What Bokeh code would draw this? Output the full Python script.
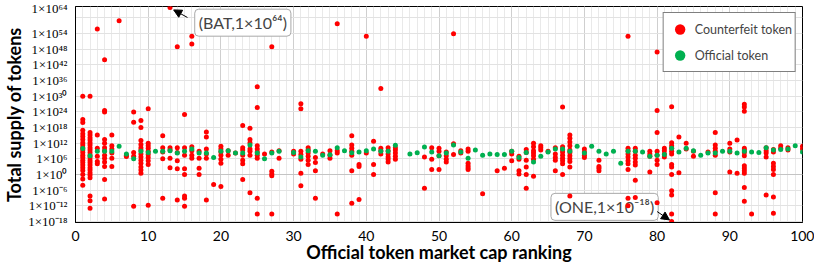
from bokeh.plotting import figure
from bokeh.models import (Range1d, FixedTicker, Legend, LegendItem, Label, Arrow,
                          NormalHead, ColumnDataSource)
from bokeh.embed import file_html
from bokeh.resources import INLINE

# ---------------- data ----------------
x_ticks = [0, 10, 20, 30, 40, 50, 60, 70, 80, 90, 100]
y_tick_exponents = [-18, -12, -6, 0, 6, 12, 18, 24, 30, 36, 42, 48, 54, 64]
y_tick_labels = ["1×10⁻¹⁸", "1×10⁻¹²", "1×10⁻⁶", "1×10⁰", "1×10⁶", "1×10¹²", "1×10¹⁸",
                 "1×10²⁴", "1×10³⁰", "1×10³⁶", "1×10⁴²", "1×10⁴⁸", "1×10⁵⁴", "1×10⁶⁴"]
y_grid_exponents = [-18, -12, -6, 0, 6, 12, 18, 24, 30, 36, 42, 48, 54, 60]

# official token: market-cap rank and log10(total supply)
official_rank = [1, 2, 3, 4, 5, 6, 7, 8, 9, 10, 11, 12, 13, 14, 15, 16, 17, 18, 19, 20,
                 21, 22, 23, 24, 25, 26, 27, 28, 30, 31, 32, 33, 34, 35, 36, 37, 38, 39, 40,
                 41, 42, 43, 44, 46, 47, 48, 49, 50, 51, 52, 53, 54, 55, 56, 57, 58, 59, 60,
                 61, 62, 63, 64, 65, 66, 67, 68, 69, 70, 71, 72, 73, 74, 75, 76, 77, 78, 79, 80,
                 81, 82, 83, 84, 85, 86, 87, 88, 89, 90, 91, 92, 93, 94, 95, 96, 97, 98, 99, 100]
official_exp = [10.0, 7.2, 8.9, 8.9, 8.9, 10.8, 7.9, 6.0, 8.9, 8.4, 8.9, 8.9, 9.1, 8.2, 8.9, 9.8, 8.2, 8.2, 6.5, 8.9,
                9.1, 8.2, 8.2, 11.3, 8.2, 6.0, 8.2, 8.9, 8.4, 6.7, 9.1, 8.9, 7.4, 7.6, 10.3, 9.1, 8.3, 8.6, 9.1,
                9.8, 8.9, 8.9, 11.2, 7.9, 8.3, 10.5, 8.6, 7.2, 8.2, 11.3, 8.6, 6.2, 9.4, 7.4, 7.9, 7.7, 7.7, 8.9,
                6.5, 8.4, 4.8, 7.0, 8.6, 9.8, 9.8, 8.9, 10.8, 8.2, 10.8, 8.9, 7.9, 8.9, 4.3, 8.9, 8.9, 8.6, 7.0, 7.4,
                7.7, 10.1, 8.6, 10.1, 9.1, 7.4, 8.2, 8.2, 8.9, 8.9, 8.2, 8.9, 8.6, 8.4, 10.3, 9.4, 9.6, 9.8, 11.0, 8.6]

# counterfeit tokens: log10(total supply), one list per official rank 1..100
counterfeit_exp_by_rank = [
    [30, 21.1, 19.9, 17, 15.6, 14.6, 13.4, 12.2, 11.3, 10.3, 9.4, 8.4, 7.4, 6.5, 5.5, 4.6, 3.6, 2.6, 1.5, 0, -1.7, -4.1],
    [30, 16.1, 15.1, 14.1, 13.2, 12.2, 11.3, 10.3, 9.4, 8.4, 7.4, 6.5, 5.5, 4.6, 3.6, 2.6, 1.7, 0.7, -0.2, -1.2, -8.2, -10.1, -12.9],
    [55.8, 15.1, 10.1, 7.0, 5.0, 4.1],
    [44, 24.5, 24, 13.4, 12, 10.3, 9.1, 7.4, 6.2, 4.8, 3.1, -1.9, -9.4],
    [15.1, 11, 9.8, 8.2, 6.2, 3.1],
    [58.9],
    [7.4, 6.9],
    [24, 20, 8.4, 7.0, -12.2],
    [20.7, 18, 13, 11.5, 10.3, 9.4, 7.9, 6.7, 5.5, 4.3, 2.9, 1.7, 0.5],
    [25.2, 12, 11, 10.1, 8.9, 7.7, 6.5, 5.3, 3.8, -11.8],
    [],
    [14.9, 10.3, 8.6, 6.0, -9.1],
    [64, 10.3, 9.4, 6.2, 2.6],
    [49, 10.3, 8.4, 5.3, 2.2, -9.8],
    [23, 10.3, 7.4, 2.2, 0, -8.2, -9.1, -12.2],
    [53, 50, 10.6, 9.1, 7.4, 6.2],
    [8.9, 6.2, 2.4, 0],
    [16.3, 14.4, 9.8, 7.9, 6.2, -9.8],
    [-3.8],
    [10.8, 9.8, 8.6, 7.4, 5.8, 4.3, -4.6],
    [9.1, 7.4],
    [8.2],
    [18.8, 10.3, 9.4, 7.4, 5.5, 4.1, -1.9],
    [17.7, 13.4, 12.2, 9.8, 8.9, 7.4, -7.0],
    [33.6, 25.7, 11, 9.8, 8.6, 7.4, 6.2, -9.1, -15.1],
    [7.9],
    [49, 8.6, 1.2, 0.2, -0.5, -15.1],
    [9.1, 6.2],
    [],
    [8.9, 7.9],
    [27.1, 25.2, 8.9, 7.7, 5.8, 0.5, -4.3],
    [10.3, 9.4, 8.2, 7.0, 5.5, 3.8],
    [6.5, 4.6, 1.4, -9.1],
    [7.9],
    [9.1, 7.4, 6.2],
    [57.8, 9.1, 8.2, -15.1],
    [],
    [14.9, 11.3, 10.1, 8.9, 7.4, 1.4, -11],
    [3.8, 3.1, -9.6],
    [53, 8.2],
    [12.7, 3.8, 0],
    [33, 10.1, 9.1, 7.9],
    [10.3, 9.1, 7.9, 6.7, 5.8, 4.8],
    [10.3, 9.4, 8.2, 7.0, 5.8],
    [],
    [],
    [],
    [6.7, -5.3],
    [10.3, 5.8, 1.9],
    [10.1, 8.9, 7.2, 1.9],
    [8.6, 7.2, 5.8, 4.8],
    [54, 11.8, 7.7],
    [9.1, 8.2],
    [9.8, 8.9, 4.3, 3.4, 2.6, 1.9],
    [],
    [-7.4],
    [],
    [1.4],
    [2.4],
    [8.9, 7.9, 5.3],
    [7.0, 5.8, 1.4, 0.2],
    [9.6, 8.4, 5.5, 2.9, 0, -5.3],
    [12, 10.6, 9.1, 8.2, 7.2, 5.8, -0.7],
    [11, 10.3, 9.4],
    [8.9],
    [10.3, 7.9, 6.5, 5.5, 1.4],
    [25.9, 10.6, 9.6, 8.6, 7.4, 6.2, 5.3, 4.1, 0],
    [15.1, 13.9, 12.5, 11, 9.4, 8.4, 7.2, 6.0, 5.0, 2.9, -8.2],
    [],
    [9.8, 8.6, 7.4, 6.5],
    [],
    [5.5, 3.1, 2.4, 1.4],
    [],
    [],
    [],
    [53, 10.1, 9.1, 7.9, 6.7, 5.3, 4.1, 1.9, -9.1, -12],
    [10.1, 8.9, 7.4, 6.2, 4.8, 3.6, -2.2, -8.8],
    [],
    [8.9, 7.9, 7.0, 1.0],
    [47, 24.5, 16.1, 8.9, 7.4, 5.5, 3.8, -10.8],
    [10.1, 9.1, 7.9, 6.7],
    [26, 12.2, 11, 10.1, 8.9, 7.9, 3.8, 2.9, 0, -6.2, -7.9, -15.1, -18],
    [14.4, 0.7],
    [12, 9.8],
    [8.9, 7.0],
    [],
    [8.6],
    [16.1, 11.3, 10.1, 8.9, 7.4, -7.0, -15.1],
    [],
    [49, 12, 9.8, 8.6, 1.0],
    [13.2, 0.5],
    [52, 26.9, 25.9, 24.2, 10.1, 9.4, 8.4, 7.2, 3.4, 2.4, 1.4, 0.5, -5.0, -10.3],
    [-15.1],
    [],
    [10.3, 9.1, 8.2, 6.7, -7.9],
    [55, 9.6, 8.6, 4.3, 3.1, 1.9, 0, -8.6, -14.9],
    [11, 10.1],
    [52, 10.3, 9.4],
    [],
    [10.8, 9.8],
]

bat_name, bat_rank, bat_exp = "BAT", 13, 64
one_name, one_rank, one_exp = "ONE", 82, -18

# ---------------- build ----------------
SUP = str.maketrans("0123456789-", "⁰¹²³⁴⁵⁶⁷⁸⁹⁻")

cf_x, cf_y = [], []
for i, exps in enumerate(counterfeit_exp_by_rank):
    for e in exps:
        cf_x.append(i + 1)
        cf_y.append(10.0 ** e)

cf_src = ColumnDataSource(dict(x=cf_x, y=cf_y))
off_src = ColumnDataSource(dict(x=official_rank, y=[10.0 ** e for e in official_exp]))

FONT = "Lato"

p = figure(width=814, height=265, y_axis_type="log",
           x_range=Range1d(0, 100), y_range=Range1d(10.0 ** -18.4, 10.0 ** 64.4),
           output_backend="svg", toolbar_location=None,
           min_border_left=60, min_border_right=12, min_border_top=6, min_border_bottom=0)
p.background_fill_color = "white"
p.border_fill_color = "white"
p.outline_line_color = "black"
p.outline_line_width = 1

# grids
p.xgrid.ticker = FixedTicker(ticks=x_ticks, minor_ticks=list(range(0, 101)))
p.xgrid.grid_line_color = "#cfcfcf"
p.xgrid.minor_grid_line_color = "#e9e9e9"
p.ygrid.ticker = FixedTicker(ticks=[1.0], minor_ticks=[10.0 ** e for e in y_grid_exponents])
p.ygrid.grid_line_color = "#c4c4c4"
p.ygrid.minor_grid_line_color = "#e2e2e2"

# axes
p.xaxis.ticker = FixedTicker(ticks=x_ticks)
y_ticks = [10.0 ** e for e in y_tick_exponents]
p.yaxis.ticker = FixedTicker(ticks=y_ticks)
p.yaxis.major_label_overrides = {t: lbl for t, lbl in zip(y_ticks, y_tick_labels)}

p.xaxis.axis_label = "Official token market cap ranking"
p.yaxis.axis_label = "Total supply of tokens"
for ax in (p.xaxis[0], p.yaxis[0]):
    ax.axis_label_text_font = FONT
    ax.axis_label_text_font_style = "bold"
    ax.axis_label_text_font_size = "18px"
    ax.axis_label_text_color = "black"
    ax.major_tick_line_color = None
    ax.minor_tick_line_color = None
    ax.axis_line_color = "black"
    ax.major_label_text_color = "black"
p.xaxis.major_label_text_font = FONT
p.xaxis.major_label_text_font_size = "14px"
p.xaxis.major_label_standoff = 2
p.xaxis.axis_label_standoff = -3
p.yaxis.major_label_text_font = "Liberation Serif"
p.yaxis.major_label_text_font_size = "13px"
p.yaxis.major_label_standoff = 2
p.yaxis.axis_label_standoff = 0

# points
r_cf = p.scatter("x", "y", source=cf_src, size=5, fill_color="#ff0000", line_color=None)
r_off = p.scatter("x", "y", source=off_src, size=5, fill_color="#00b050", line_color=None)

legend = Legend(items=[LegendItem(label="Counterfeit token", renderers=[r_cf]),
                       LegendItem(label="Official token", renderers=[r_off])],
                location="top_right", margin=6, padding=3, spacing=-6,
                glyph_height=26, glyph_width=26, label_standoff=2,
                label_text_font=FONT, label_text_font_size="12.5px",
                border_line_color="black", border_line_width=1,
                background_fill_color="white", background_fill_alpha=1.0)
legend.level = "underlay"
p.add_layout(legend)

# annotations
bat_text = f"({bat_name},1×10{str(bat_exp).translate(SUP)})"
one_text = f"({one_name},1×10{str(one_exp).translate(SUP)})"

bat_label = Label(x=bat_rank + 3.4, y=10.0 ** (bat_exp - 5.8), text=bat_text,
                  text_font=FONT, text_font_size="16px", text_baseline="middle",
                  text_align="left", background_fill_color="white",
                  border_line_color="#a8a8a8", border_line_width=1,
                  padding=4, border_radius=4, level="underlay")
one_label = Label(x=one_rank - 16.6, y=10.0 ** (one_exp + 5.6), text=one_text,
                  text_font=FONT, text_font_size="16px", text_baseline="middle",
                  text_align="left", background_fill_color="white",
                  border_line_color="#a8a8a8", border_line_width=1,
                  padding=4, border_radius=4, level="underlay")
p.add_layout(bat_label)
p.add_layout(one_label)

p.add_layout(Arrow(end=NormalHead(size=8, fill_color="black", line_color="black"),
                   x_start=bat_rank + 2.4, y_start=10.0 ** (bat_exp - 3.8),
                   x_end=bat_rank + 0.5, y_end=10.0 ** (bat_exp - 0.9),
                   line_color="black", line_width=1))
p.add_layout(Arrow(end=NormalHead(size=8, fill_color="black", line_color="black"),
                   x_start=one_rank - 2.0, y_start=10.0 ** (one_exp + 3.8),
                   x_end=one_rank - 0.3, y_end=10.0 ** (one_exp + 0.6),
                   line_color="black", line_width=1))

open("out.html", "w").write(file_html(p, INLINE))
